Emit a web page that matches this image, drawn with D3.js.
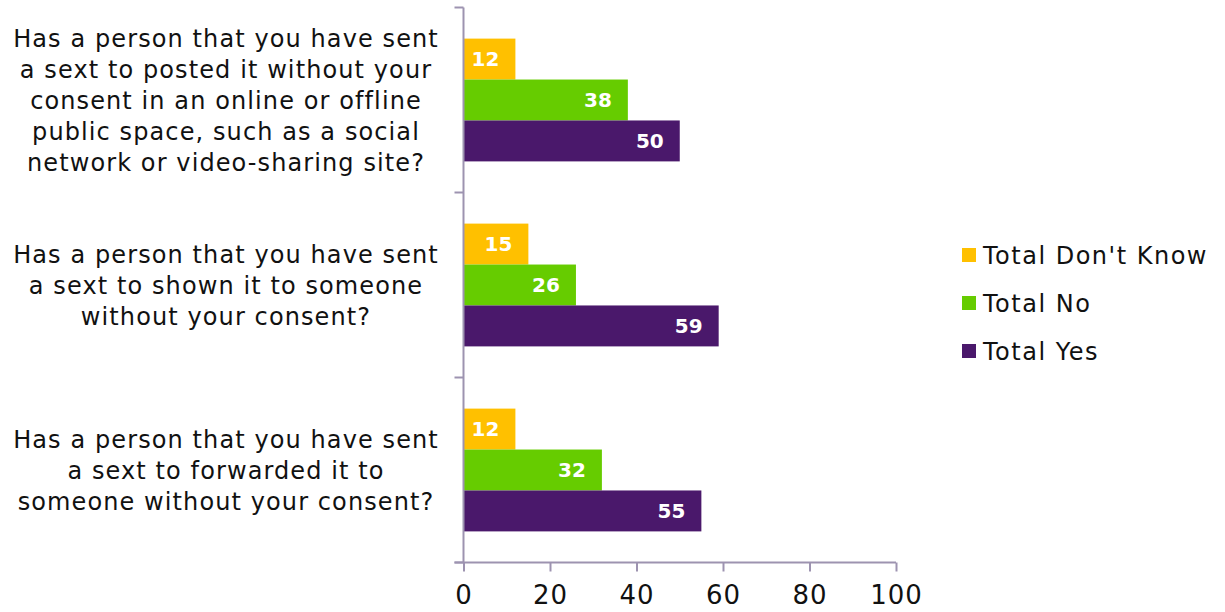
<!DOCTYPE html>
<html><head><meta charset="utf-8">
<script src="https://cdn.jsdelivr.net/npm/d3@7"></script>
<style>body{margin:0;background:#fff}svg{display:block}</style>
</head><body>
<script>
const categories = [
  ["Has a person that you have sent","a sext to posted it without your","consent in an online or offline","public space, such as a social","network or video-sharing site?"],
  ["Has a person that you have sent","a sext to shown it to someone","without your consent?"],
  ["Has a person that you have sent","a sext to forwarded it to","someone without your consent?"]
];
const seriesNames = ["Total Don't Know","Total No","Total Yes"];
const dontKnow = [12, 15, 12];
const no = [38, 26, 32];
const yes = [50, 59, 55];
const xTicks = [0, 20, 40, 60, 80, 100];
const colors = ["#FFC000","#66CC00","#4A186B"];

const W = 1225, H = 612;
const svg = d3.select("body").append("svg").attr("width", W).attr("height", H);
const font = "'DejaVu Sans', sans-serif";
const axisColor = "#9D93B0";

const x = d3.scaleLinear().domain([0,100]).range([463.5, 896]);
const y = d3.scaleBand().domain(d3.range(categories.length)).range([7.5, 562.5]).paddingInner(0).paddingOuter(0);
const inner = d3.scaleBand().domain(d3.range(3)).range([0, y.bandwidth()]).paddingOuter(0.76).paddingInner(0);

const seriesVals = [dontKnow, no, yes];

// bars
seriesVals.forEach((vals, s) => {
  const g = svg.append("g");
  g.selectAll("rect").data(vals).join("rect")
    .attr("x", x(0))
    .attr("y", (d,i) => y(i) + inner(s))
    .attr("width", d => x(d) - x(0))
    .attr("height", inner.bandwidth())
    .attr("fill", colors[s]);
  g.selectAll("text").data(vals).join("text")
    .attr("x", d => x(d) - 16)
    .attr("y", (d,i) => y(i) + inner(s) + inner.bandwidth()/2)
    .attr("dy", "0.36em")
    .attr("text-anchor", "end")
    .attr("font-family", font).attr("font-weight", "bold").attr("font-size", 20)
    .attr("fill", "#fff")
    .text(d => d);
});

// x axis
const xAxis = svg.append("g").attr("transform", `translate(0,${562.5})`)
  .call(d3.axisBottom(x).tickValues(xTicks).tickSize(9).tickPadding(14).tickSizeOuter(0));
xAxis.select(".domain").attr("stroke", axisColor).attr("stroke-width", 2).attr("d", `M${x(0)-9},0H${x(100)}`);
xAxis.selectAll(".tick line").attr("stroke", axisColor).attr("stroke-width", 2);
xAxis.selectAll(".tick text").attr("font-family", font).attr("font-size", 26).attr("letter-spacing", 1).attr("fill", "#111");

// y axis
const yAxisG = svg.append("g");
yAxisG.append("line").attr("x1", x(0)).attr("x2", x(0)).attr("y1", y.range()[0]).attr("y2", y.range()[1])
  .attr("stroke", axisColor).attr("stroke-width", 2);
const bounds = d3.range(categories.length + 1).map(i => i < categories.length ? y(i) : y.range()[1]);
yAxisG.selectAll("line.t").data(bounds).join("line").attr("class","t")
  .attr("x1", x(0) - 9).attr("x2", x(0)).attr("y1", d => d).attr("y2", d => d)
  .attr("stroke", axisColor).attr("stroke-width", 2);

// category labels
const lh = 31;
categories.forEach((lines, i) => {
  const cy = y(i) + y.bandwidth()/2;
  const t = svg.append("text").attr("font-family", font).attr("font-size", 24).attr("letter-spacing", 1.1)
    .attr("fill", "#111").attr("text-anchor", "middle");
  lines.forEach((ln, j) => {
    t.append("tspan").attr("x", 226).attr("y", cy + (j - (lines.length-1)/2) * lh).attr("dy", "0.36em").text(ln);
  });
});

// legend
const leg = svg.append("g");
seriesNames.forEach((n, i) => {
  const ly = 255 + i * 48;
  leg.append("rect").attr("x", 962).attr("y", ly - 7).attr("width", 14).attr("height", 14).attr("fill", colors[i]);
  leg.append("text").attr("x", 983).attr("y", ly).attr("dy", "0.36em")
    .attr("font-family", font).attr("font-size", 24).attr("letter-spacing", 1.5).attr("fill", "#111").text(n);
});
</script>
</body></html>
